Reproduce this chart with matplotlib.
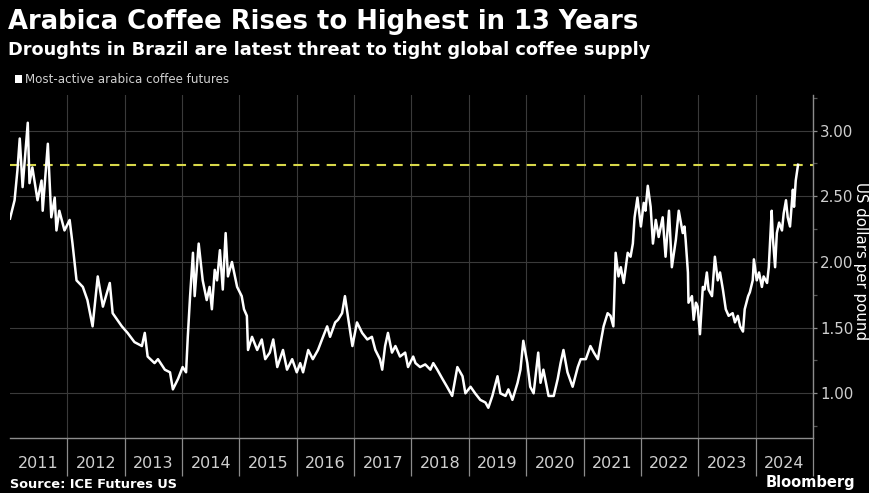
import numpy as np
import matplotlib.pyplot as plt

# Most-active arabica coffee futures, US dollars per pound (decimal year, price)
dates = [
    2011.00, 2011.08, 2011.13, 2011.17, 2011.22, 2011.31, 2011.34, 2011.39, 2011.48, 2011.55,
    2011.57, 2011.66, 2011.72, 2011.78, 2011.81, 2011.86, 2011.95, 2012.04, 2012.09, 2012.16,
    2012.27, 2012.35, 2012.44, 2012.53, 2012.62, 2012.74, 2012.79, 2012.95, 2013.05, 2013.17,
    2013.30, 2013.35, 2013.40, 2013.52, 2013.58, 2013.70, 2013.79, 2013.84, 2013.93, 2014.01,
    2014.07, 2014.10, 2014.14, 2014.19, 2014.22, 2014.29, 2014.36, 2014.43, 2014.48, 2014.52,
    2014.57, 2014.61, 2014.66, 2014.71, 2014.76, 2014.80, 2014.87, 2014.96, 2015.04, 2015.08,
    2015.13, 2015.15, 2015.22, 2015.31, 2015.39, 2015.45, 2015.53, 2015.59, 2015.66, 2015.76,
    2015.83, 2015.92, 2016.00, 2016.06, 2016.11, 2016.20, 2016.28, 2016.37, 2016.44, 2016.53,
    2016.58, 2016.67, 2016.72, 2016.79, 2016.84, 2016.90, 2016.97, 2017.05, 2017.14, 2017.23,
    2017.31, 2017.37, 2017.45, 2017.49, 2017.54, 2017.59, 2017.66, 2017.72, 2017.80, 2017.89,
    2017.94, 2018.03, 2018.07, 2018.15, 2018.24, 2018.33, 2018.38, 2018.45, 2018.54, 2018.62,
    2018.71, 2018.80, 2018.89, 2018.94, 2019.03, 2019.11, 2019.20, 2019.29, 2019.34, 2019.41,
    2019.50, 2019.55, 2019.64, 2019.69, 2019.76, 2019.85, 2019.90, 2019.95, 2020.02, 2020.07,
    2020.13, 2020.21, 2020.25, 2020.30, 2020.39, 2020.48, 2020.55, 2020.60, 2020.65, 2020.72,
    2020.81, 2020.90, 2020.95, 2021.04, 2021.12, 2021.18, 2021.25, 2021.30, 2021.35, 2021.42,
    2021.47, 2021.52, 2021.56, 2021.61, 2021.65, 2021.70, 2021.77, 2021.82, 2021.86, 2021.89,
    2021.94, 2022.00, 2022.05, 2022.08, 2022.12, 2022.17, 2022.21, 2022.26, 2022.31, 2022.38,
    2022.43, 2022.49, 2022.54, 2022.61, 2022.66, 2022.73, 2022.76, 2022.78, 2022.82, 2022.83,
    2022.89, 2022.92, 2022.96, 2022.99, 2023.03, 2023.08, 2023.11, 2023.15, 2023.18, 2023.24,
    2023.29, 2023.34, 2023.38, 2023.43, 2023.48, 2023.53, 2023.60, 2023.64, 2023.69, 2023.73,
    2023.78, 2023.81, 2023.87, 2023.90, 2023.95, 2023.97, 2024.02, 2024.06, 2024.11, 2024.14,
    2024.20, 2024.23, 2024.28, 2024.30, 2024.34, 2024.37, 2024.41, 2024.46, 2024.49, 2024.53,
    2024.56, 2024.60, 2024.65, 2024.67, 2024.70, 2024.74,
]
prices = [
    2.33, 2.47, 2.70, 2.94, 2.57, 3.06, 2.60, 2.72, 2.47, 2.62,
    2.39, 2.90, 2.34, 2.49, 2.24, 2.39, 2.24, 2.32, 2.14, 1.86,
    1.81, 1.71, 1.51, 1.89, 1.66, 1.84, 1.61, 1.51, 1.46, 1.39,
    1.36, 1.46, 1.28, 1.23, 1.26, 1.18, 1.16, 1.03, 1.11, 1.20,
    1.16, 1.43, 1.74, 2.07, 1.74, 2.14, 1.86, 1.71, 1.81, 1.64,
    1.94, 1.86, 2.09, 1.79, 2.22, 1.89, 2.00, 1.81, 1.74, 1.64,
    1.59, 1.33, 1.43, 1.33, 1.41, 1.26, 1.31, 1.41, 1.20, 1.33,
    1.18, 1.26, 1.16, 1.23, 1.16, 1.33, 1.26, 1.33, 1.41, 1.51,
    1.43, 1.54, 1.56, 1.61, 1.74, 1.56, 1.36, 1.54, 1.46, 1.41,
    1.43, 1.33, 1.26, 1.18, 1.36, 1.46, 1.31, 1.36, 1.28, 1.31,
    1.20, 1.28, 1.23, 1.20, 1.22, 1.18, 1.23, 1.18, 1.11, 1.05,
    0.98, 1.20, 1.13, 1.00, 1.05, 1.00, 0.95, 0.93, 0.89, 0.98,
    1.13, 1.00, 0.98, 1.03, 0.95, 1.08, 1.18, 1.40, 1.23, 1.05,
    1.00, 1.31, 1.08, 1.18, 0.98, 0.98, 1.11, 1.23, 1.33, 1.16,
    1.05, 1.20, 1.26, 1.26, 1.36, 1.31, 1.26, 1.39, 1.51, 1.61,
    1.59, 1.51, 2.07, 1.89, 1.96, 1.84, 2.07, 2.04, 2.14, 2.34,
    2.49, 2.27, 2.45, 2.39, 2.58, 2.42, 2.14, 2.32, 2.19, 2.34,
    2.04, 2.39, 1.96, 2.17, 2.39, 2.22, 2.27, 2.17, 1.92, 1.69,
    1.74, 1.56, 1.69, 1.66, 1.45, 1.81, 1.79, 1.92, 1.79, 1.74,
    2.04, 1.86, 1.92, 1.79, 1.64, 1.59, 1.61, 1.54, 1.59, 1.51,
    1.47, 1.64, 1.74, 1.77, 1.86, 2.02, 1.86, 1.92, 1.81, 1.89,
    1.84, 1.96, 2.39, 2.19, 1.96, 2.22, 2.30, 2.24, 2.37, 2.47,
    2.34, 2.27, 2.55, 2.42, 2.62, 2.74,
]

years = list(range(2011, 2025))
y_ticks = [1.00, 1.50, 2.00, 2.50, 3.00]

BG = "#000000"
GRID = "#3a3a3a"
AXIS = "#8c8c8c"
TICK_TXT = "#cfcfcf"

fig = plt.figure(figsize=(8.69, 4.93), dpi=100, facecolor=BG)
ax = fig.add_axes([0.0115, 0.1116, 0.924, 0.6954], facecolor=BG)

# highlight level of the latest price
ax.axhline(prices[-1], color="#d8d84a", lw=1.5, dashes=(4.5, 3.5), zorder=2)
ax.plot(dates, prices, color="white", lw=1.8, zorder=3)

ax.set_xlim(2011, 2025)
ax.set_ylim(0.66, 3.27)

# year labels centred in each year, separators at year boundaries
ax.set_xticks([y + 0.5 for y in years])
ax.set_xticklabels([str(y) for y in years])
ax.set_xticks(list(range(2012, 2026)), minor=True)
ax.tick_params(axis="x", which="major", length=0, pad=13, labelsize=11.5, colors=TICK_TXT)
ax.tick_params(axis="x", which="minor", length=27, width=0.9, color=AXIS, direction="out")
ax.grid(axis="x", which="minor", color=GRID, lw=0.8)

ax.yaxis.tick_right()
ax.set_yticks(y_ticks)
ax.set_yticklabels([f"{v:.2f}" for v in y_ticks])
ax.set_yticks(np.arange(0.75, 3.3, 0.5), minor=True)
ax.tick_params(axis="y", which="both", length=3, width=0.9, color=AXIS, direction="out",
               labelsize=10.8, colors=TICK_TXT, pad=2)
ax.tick_params(axis="y", which="minor", length=3, color="#555555")
ax.grid(axis="y", which="major", color=GRID, lw=0.8)

for side in ("left", "top"):
    ax.spines[side].set_visible(False)
ax.spines["right"].set_color(AXIS)
ax.spines["bottom"].set_color(AXIS)
ax.spines["right"].set_linewidth(1.0)
ax.spines["bottom"].set_linewidth(1.0)

fig.text(0.9905, 0.47, "US dollars per pound", rotation=270, color="white",
         fontsize=10.8, va="center", ha="center")

fig.text(0.009, 0.955, "Arabica Coffee Rises to Highest in 13 Years", color="white",
         fontsize=18.6, fontweight="bold", va="center", ha="left")
fig.text(0.009, 0.898, "Droughts in Brazil are latest threat to tight global coffee supply",
         color="white", fontsize=12.8, fontweight="bold", va="center", ha="left")

fig.patches.append(plt.Rectangle((0.0173, 0.832), 0.0085, 0.0155, transform=fig.transFigure,
                                 facecolor="white", edgecolor="none"))
fig.text(0.029, 0.838, "Most-active arabica coffee futures", color="#d0d0d0",
         fontsize=8.6, va="center", ha="left")

fig.text(0.012, 0.017, "Source: ICE Futures US", color="white", fontsize=9.3,
         fontweight="bold", va="center", ha="left")
fig.text(0.984, 0.022, "Bloomberg", color="white", fontsize=10.5, fontweight="bold",
         va="center", ha="right")

fig.savefig("out.png", dpi=100, facecolor=BG)
